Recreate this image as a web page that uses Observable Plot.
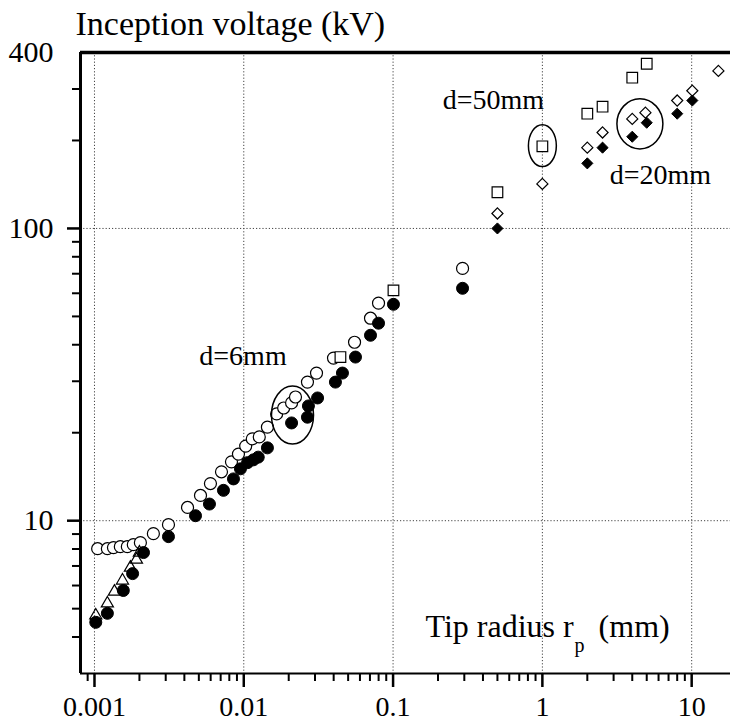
<!DOCTYPE html>
<html><head><meta charset="utf-8">
<script src="https://cdn.jsdelivr.net/npm/d3@7"></script>
<script src="https://cdn.jsdelivr.net/npm/@observablehq/plot@0.6"></script>
<style>body{margin:0;background:#fff}</style>
</head><body><div id="chart"></div>
<script>
// ---- data ----
const filledCircleX = [0.00102, 0.00122, 0.00156, 0.0018, 0.00213, 0.00313, 0.00475, 0.00589, 0.00731, 0.00853, 0.0095, 0.0106, 0.0116, 0.0125, 0.0144, 0.0209, 0.0267, 0.0271, 0.0312, 0.0411, 0.0458, 0.056, 0.0706, 0.0799, 0.1006, 0.292];
const filledCircleY = [4.49, 4.82, 5.77, 6.59, 7.78, 8.82, 10.4, 11.4, 12.7, 13.9, 15.05, 15.8, 16.15, 16.5, 17.75, 21.6, 22.6, 24.7, 26.3, 29.8, 32.0, 36.3, 43.1, 47.4, 55.0, 62.4];
const openCircleX = [0.00105, 0.00122, 0.00134, 0.00149, 0.00166, 0.00182, 0.00203, 0.00248, 0.00313, 0.0042, 0.00513, 0.00598, 0.00709, 0.00827, 0.00921, 0.0103, 0.0114, 0.0127, 0.0144, 0.0166, 0.0185, 0.0209, 0.0222, 0.0267, 0.0307, 0.0399, 0.0552, 0.0706, 0.0799, 0.292];
const openCircleY = [8.02, 8.02, 8.09, 8.15, 8.15, 8.28, 8.41, 9.03, 9.69, 11.1, 12.2, 13.4, 14.7, 15.9, 16.9, 18.0, 19.05, 19.35, 20.9, 23.2, 24.3, 25.3, 26.5, 29.8, 32.0, 36.0, 40.8, 49.3, 55.5, 73.0];
const triangleX = [0.00102, 0.00122, 0.00136, 0.00154, 0.00174, 0.00191, 0.002];
const triangleY = [4.74, 5.21, 5.72, 6.24, 6.91, 7.36, 7.78];
const squareX = [0.0444, 0.1006, 0.5, 1.0, 2.0, 2.53, 4.0, 5.0];
const squareY = [36.3, 61.4, 133, 191, 247, 261, 328, 366];
const openDiamondX = [0.5, 1.0, 2.0, 2.53, 4.0, 4.9, 8.0, 10.1, 15.1];
const openDiamondY = [112.5, 142, 189, 213, 237, 249, 274, 296, 346];
const filledDiamondX = [0.5, 2.0, 2.53, 4.0, 5.0, 8.0, 10.1];
const filledDiamondY = [100, 167, 189, 206, 230, 247, 274];

// annotations
const annoText = ["d=6mm", "d=50mm", "d=20mm"];
const annoX = [0.00988, 0.470, 6.18];
const annoY = [34.1, 256.8, 142.4];
const ellipseX = [0.0212, 1.0, 4.5];
const ellipseY = [23.0, 192, 228];

// axes
const xDomain = [0.000806, 18.2];
const yDomain = [3, 400];
const xMajor = [0.001, 0.01, 0.1, 1, 10];
const xTickLabels = ["0.001", "0.01", "0.1", "1", "10"];
const xMinor = [0.0009, 0.002,0.003,0.004,0.005,0.006,0.007,0.008,0.009, 0.02,0.03,0.04,0.05,0.06,0.07,0.08,0.09, 0.2,0.3,0.4,0.5,0.6,0.7,0.8,0.9, 2,3,4,5,6,7,8,9];
const yMajor = [10, 100];
const yLabelTicks = [10, 100, 400];
const yTickLabels = ["10", "100", "400"];
const yMinor = [4,5,6,7,8,9, 20,30,40,50,60,70,80,90, 200,300];
const xGrid = [0.001, 0.01, 0.1, 1, 10];
const yGrid = [10, 100];

const titleText = "Inception voltage (kV)";
const xTitleParts = ["Tip radius r", "p", "(mm)"];
const xTitleX = [0.165, 1.64, 2.38];
const xTitleY = [3.99, 3.54, 3.99];
const xTitleSize = [32, 20, 32];

// ---- helpers ----
const pts = (xs, ys) => xs.map((x, i) => ({x, y: ys[i]}));
function ellipseSymbol(aspect) {
  return {draw(ctx, size) {
    const rx = Math.sqrt(size / (Math.PI * aspect)), ry = rx * aspect, k = 0.5523;
    ctx.moveTo(rx, 0);
    ctx.bezierCurveTo(rx, ry * k, rx * k, ry, 0, ry);
    ctx.bezierCurveTo(-rx * k, ry, -rx, ry * k, -rx, 0);
    ctx.bezierCurveTo(-rx, -ry * k, -rx * k, -ry, 0, -ry);
    ctx.bezierCurveTo(rx * k, -ry, rx, -ry * k, rx, 0);
    ctx.closePath();
  }};
}
const ellipseStyle = [
  {r: 24.7, aspect: 1.38},
  {r: 17.1, aspect: 1.5},
  {r: 24.0, aspect: 1.09}
];
const serif = "'Liberation Serif', 'Times New Roman', serif";

const chart = Plot.plot({
  width: 730, height: 724,
  marginLeft: 80, marginRight: 0, marginTop: 52, marginBottom: 51,
  style: {fontFamily: serif, fontSize: "30px", background: "white", color: "black"},
  x: {type: "log", domain: xDomain, axis: null},
  y: {type: "log", domain: yDomain, axis: null},
  marks: [
    Plot.ruleX(xGrid, {stroke: "#444", strokeDasharray: "1.2,2", strokeWidth: 1}),
    Plot.ruleY(yGrid, {stroke: "#444", strokeDasharray: "1.2,2", strokeWidth: 1}),
    Plot.ruleX([xDomain[0]], {strokeWidth: 3}),
    Plot.ruleY([yDomain[1]], {strokeWidth: 3.5}),
    Plot.ruleY([yDomain[0]], {strokeWidth: 2}),
    Plot.axisX(xMinor, {tickSize: 8, strokeWidth: 2, tickFormat: () => "", label: null}),
    Plot.axisX(xMajor, {tickSize: 14, tickPadding: 9, strokeWidth: 2.5, fontSize: 28, label: null,
      tickFormat: (d, i) => xTickLabels[xMajor.indexOf(d)]}),
    Plot.axisY(yMinor, {tickSize: 8, strokeWidth: 2, tickFormat: () => "", label: null}),
    Plot.axisY(yMajor, {tickSize: 13, strokeWidth: 2.5, tickFormat: () => "", label: null}),
    Plot.axisY(yLabelTicks, {tickSize: 0, tickPadding: 27, fontSize: 30, label: null,
      tickFormat: d => yTickLabels[yLabelTicks.indexOf(d)]}),
    // data
    Plot.dot(pts(openCircleX, openCircleY), {x: "x", y: "y", r: 6, fill: "white", stroke: "black", strokeWidth: 1.2}),
    Plot.dot(pts(filledCircleX, filledCircleY), {x: "x", y: "y", r: 6, fill: "black", stroke: "black", strokeWidth: 1}),
    Plot.dot(pts(triangleX, triangleY), {x: "x", y: "y", r: 4.5, symbol: "triangle", fill: "none", stroke: "black", strokeWidth: 1.2}),
    Plot.dot(pts(squareX, squareY), {x: "x", y: "y", r: 6, symbol: "square", fill: "white", stroke: "black", strokeWidth: 1.2}),
    Plot.dot(pts(openDiamondX, openDiamondY), {x: "x", y: "y", r: 5, symbol: "diamond2", fill: "white", stroke: "black", strokeWidth: 1.2}),
    Plot.dot(pts(filledDiamondX, filledDiamondY), {x: "x", y: "y", r: 5, symbol: "diamond2", fill: "black", stroke: "black", strokeWidth: 1}),
    // ellipses
    ...ellipseX.map((ex, i) => Plot.dot([{x: ex, y: ellipseY[i]}], {x: "x", y: "y", r: ellipseStyle[i].r,
      symbol: ellipseSymbol(ellipseStyle[i].aspect), fill: "none", stroke: "black", strokeWidth: 1.5})),
    // annotations
    Plot.text(annoText, {x: (d, i) => annoX[i], y: (d, i) => annoY[i], text: d => d, fontSize: 28, lineAnchor: "bottom", fontFamily: serif}),
    Plot.text(xTitleParts, {x: (d, i) => xTitleX[i], y: (d, i) => xTitleY[i], text: d => d,
      fontSize: (d, i) => xTitleSize[i], textAnchor: "start", lineAnchor: "bottom", fontFamily: serif}),
    Plot.text([titleText], {frameAnchor: "top-left", dx: -5, dy: -18, textAnchor: "start", lineAnchor: "bottom", fontSize: 34, fontFamily: serif})
  ]
});
document.getElementById("chart").append(chart);
</script>
</body></html>
